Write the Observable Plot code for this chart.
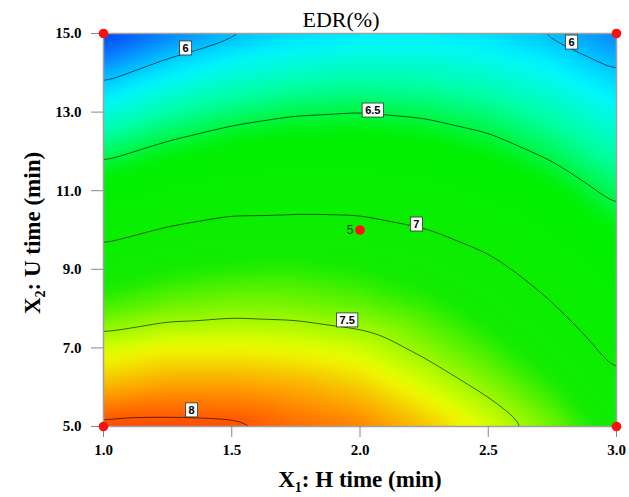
<!DOCTYPE html>
<html>
<head>
<meta charset="utf-8">
<script src="https://cdn.jsdelivr.net/npm/d3@7"></script>
<script src="https://cdn.jsdelivr.net/npm/@observablehq/plot@0.6"></script>
<style>
  html, body { margin: 0; padding: 0; background: #fff; }
  #chart { width: 629px; height: 497px; }
</style>
</head>
<body>
<div id="chart"></div>
<script>
// X1: H time (min) grid positions
const hTime = [1.0, 1.25, 1.5, 1.75, 2.0, 2.25, 2.5, 2.75, 3.0];
// X2: U time (min) grid positions
const uTime = [5, 6, 7, 8, 9, 10, 11, 12, 13, 14, 15];
const edr = [
  [8.05, 8.05, 8.04, 7.97, 7.92, 7.79, 7.62, 7.42, 7.17],
  [7.81, 7.86, 7.86, 7.83, 7.76, 7.62, 7.46, 7.28, 7.04],
  [7.60, 7.66, 7.66, 7.64, 7.59, 7.46, 7.32, 7.15, 6.93],
  [7.35, 7.42, 7.45, 7.44, 7.40, 7.32, 7.19, 7.02, 6.81],
  [7.15, 7.24, 7.28, 7.29, 7.25, 7.18, 7.06, 6.90, 6.71],
  [6.92, 7.02, 7.08, 7.08, 7.07, 7.01, 6.91, 6.76, 6.58],
  [6.68, 6.79, 6.86, 6.88, 6.88, 6.83, 6.74, 6.62, 6.45],
  [6.44, 6.56, 6.65, 6.69, 6.69, 6.66, 6.58, 6.46, 6.31],
  [6.19, 6.33, 6.42, 6.48, 6.50, 6.47, 6.41, 6.30, 6.16],
  [5.94, 6.09, 6.20, 6.26, 6.29, 6.28, 6.23, 6.14, 6.01],
  [5.68, 5.84, 5.96, 6.04, 6.08, 6.09, 6.05, 5.97, 5.85]
];
// contour levels and their label anchors
const levels = [6, 6.5, 7, 7.5, 8];
const labelText = ["6", "6", "6.5", "7", "7.5", "8"];
const labelX = [1.32, 2.825, 2.05, 2.22, 1.95, 1.343];
const labelY = [14.62, 14.77, 13.04, 10.14, 7.70, 5.41];
// design points
const designX = [1, 3, 1, 3, 2];
const designY = [5, 5, 15, 15, 10];
const centerCount = ["5"];
// ticks
const xTicks = [1.0, 1.5, 2.0, 2.5, 3.0];
const yTicks = [5, 7, 9, 11, 13, 15];
// colour ramp
const colorStops = [5.68, 5.85, 6.0, 6.12, 6.35, 6.6, 7.25, 7.45, 7.65, 7.87, 8.06];
const colorHex = ["#0040f0", "#0a80ff", "#00c8ff", "#00f8ff", "#00ffa0", "#00f000",
                  "#12ec00", "#86f600", "#eeff00", "#ff9800", "#ff4000"];

const grid = [];
uTime.forEach((u, j) => hTime.forEach((h, i) => grid.push({h, u, v: edr[j][i]})));
const design = designX.map((x, i) => ({x, y: designY[i]}));
const labels = labelText.map((t, i) => ({t, x: labelX[i], y: labelY[i]}));

const fmt = d3.format(".1f");
const svg = Plot.plot({
  width: 629,
  height: 497,
  marginLeft: 103,
  marginRight: 13,
  marginTop: 33,
  marginBottom: 71,
  style: {fontFamily: "'Liberation Serif', 'Times New Roman', serif", fontSize: "15px", fontWeight: "bold", background: "#fff", color: "#000"},
  x: {domain: [1, 3]},
  y: {domain: [5, 15]},
  color: {type: "linear", domain: colorStops, range: colorHex},
  marks: [
    Plot.raster(grid, {x: "h", y: "u", fill: "v", interpolate: "barycentric", pixelSize: 1, blur: 6}),
    Plot.contour(grid, {x: "h", y: "u", value: "v", interpolate: "barycentric", pixelSize: 1, blur: 9,
      thresholds: levels, fill: "none", stroke: "#000", strokeOpacity: 0.6, strokeWidth: 1, clip: true}),
    Plot.frame({stroke: "#a0a0a0", strokeWidth: 1.5}),
    Plot.axisX({ticks: xTicks, tickFormat: fmt, tickSize: 11, tickPadding: 7, label: null, stroke: "#888"}),
    Plot.axisY({ticks: yTicks, tickFormat: fmt, tickSize: 12, tickPadding: 10, label: null, stroke: "#888"}),
    Plot.dot(design, {x: "x", y: "y", r: 4.8, fill: "#ff1010", stroke: "none"}),
    Plot.text(centerCount, {x: () => 2, y: () => 10, text: d => d, dx: -10, fill: "#0b4a10",
      fontFamily: "'Liberation Sans', Arial, sans-serif", fontWeight: "normal", fontSize: 12}),
    Plot.text(labels, {x: "x", y: "y", text: "t", className: "clabel", fill: "#000",
      fontFamily: "'Liberation Sans', Arial, sans-serif", fontWeight: "bold", fontSize: 11})
  ]
});
document.getElementById("chart").appendChild(svg);

// white boxes behind contour labels
svg.querySelectorAll("g.clabel text").forEach(t => {
  const b = t.getBBox();
  const r = document.createElementNS("http://www.w3.org/2000/svg", "rect");
  r.setAttribute("x", b.x - 3);
  r.setAttribute("y", b.y - 1);
  r.setAttribute("width", b.width + 6);
  r.setAttribute("height", b.height + 2);
  r.setAttribute("fill", "#fff");
  r.setAttribute("stroke", "#333");
  r.setAttribute("stroke-width", "0.8");
  if (t.getAttribute("transform")) r.setAttribute("transform", t.getAttribute("transform"));
  t.parentNode.insertBefore(r, t);
});

const s = d3.select(svg);
const serif = "'Liberation Serif', 'Times New Roman', serif";
// title
s.append("text")
  .attr("x", 341).attr("y", 27)
  .attr("text-anchor", "middle")
  .attr("font-size", 22).attr("font-weight", "normal")
  .attr("font-family", serif).attr("fill", "#000")
  .text("EDR(%)");

// axis titles with subscripts
const xl = s.append("text")
  .attr("x", 360).attr("y", 487)
  .attr("text-anchor", "middle")
  .attr("font-size", 23).attr("font-weight", "bold")
  .attr("font-family", serif).attr("fill", "#000");
xl.append("tspan").text("X");
xl.append("tspan").attr("font-size", 14).attr("dy", 5).text("1");
xl.append("tspan").attr("dy", -5).text(": H time (min)");

const yl = s.append("text")
  .attr("transform", "translate(40,233) rotate(-90)")
  .attr("text-anchor", "middle")
  .attr("font-size", 23).attr("font-weight", "bold")
  .attr("font-family", serif).attr("fill", "#000");
yl.append("tspan").text("X");
yl.append("tspan").attr("font-size", 14).attr("dy", 5).text("2");
yl.append("tspan").attr("dy", -5).text(": U time (min)");
</script>
</body>
</html>
